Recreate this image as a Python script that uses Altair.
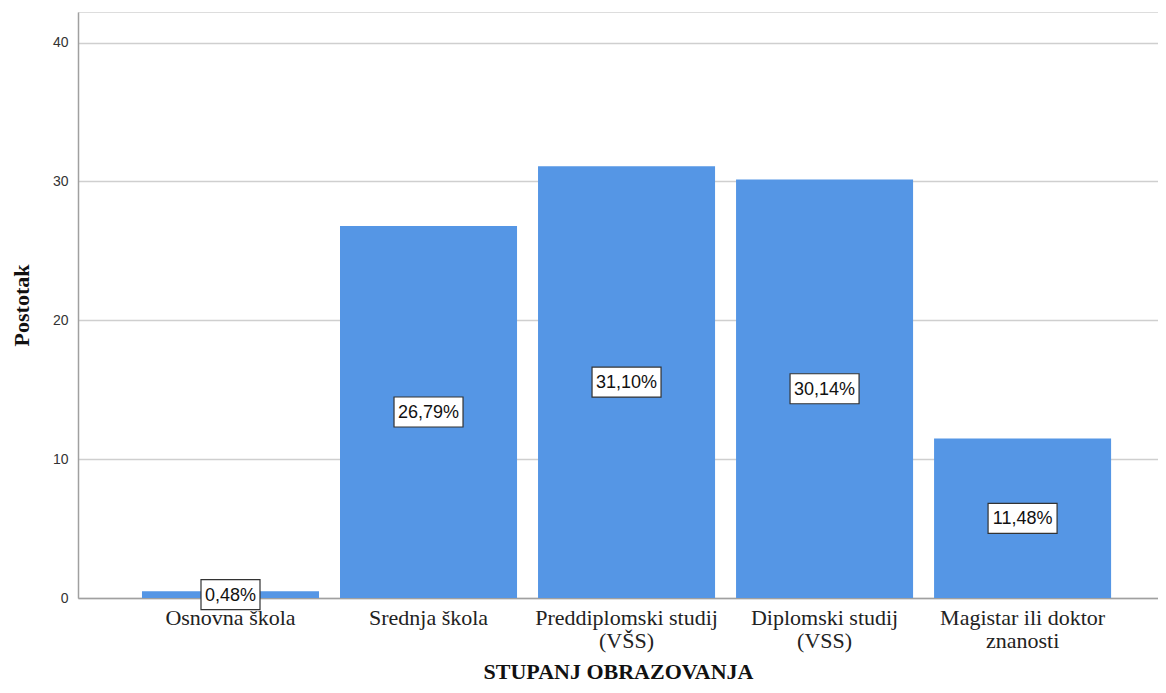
import altair as alt
import pandas as pd

categories = ["Osnovna škola", "Srednja škola", "Preddiplomski studij (VŠS)",
              "Diplomski studij (VSS)", "Magistar ili doktor znanosti"]
axis_labels = ["Osnovna škola", "Srednja škola", "Preddiplomski studij\n(VŠS)",
               "Diplomski studij\n(VSS)", "Magistar ili doktor\nznanosti"]
percent = [0.48, 26.79, 31.10, 30.14, 11.48]

def fmt(v):
    return f"{v:.2f}".replace(".", ",") + "%"

CW = {",": 0.278, "%": 0.889}
def half_box(s, fs=18):
    w = sum(CW.get(c, 0.556) for c in s) * fs
    return w / 2 + 4

rows = []
for c, lab, v in zip(categories, axis_labels, percent):
    t = fmt(v)
    hw = half_box(t)
    rows.append({"cat": lab, "pct": v, "mid": v / 2, "label": t,
                 "box": f"M{-hw:.1f},-15H{hw:.1f}V15H{-hw:.1f}Z"})
df = pd.DataFrame(rows)

xenc = alt.X("cat:N", sort=axis_labels,
             scale=alt.Scale(paddingInner=0.106, paddingOuter=0.28, align=0.577),
             axis=alt.Axis(title="STUPANJ OBRAZOVANJA", labelAngle=0,
                           labelExpr="split(datum.label, '\\n')",
                           labelFont="Liberation Serif", labelFontSize=22,
                           labelColor="#222", labelPadding=9, labelLineHeight=23,
                           labelBaseline="top", labelLimit=400,
                           titleFont="Liberation Serif", titleFontSize=22,
                           titleFontWeight="bold", titleColor="#111", titlePadding=10,
                           ticks=False, domainColor="#A0A0A0", domainWidth=1.5,
                           grid=False))

base = alt.Chart(df)

bars = base.mark_bar(color="#5596E5").encode(
    x=xenc,
    y=alt.Y("pct:Q", scale=alt.Scale(domain=[0, 42.2], nice=False),
            axis=alt.Axis(title="Postotak", values=[0, 10, 20, 30, 40],
                          labelFont="Liberation Sans", labelFontSize=14,
                          labelColor="#333", labelPadding=10, ticks=False,
                          domainColor="#A0A0A0", domainWidth=1.5,
                          gridColor="#CFCFCF", gridWidth=1.5,
                          titleFont="Liberation Serif", titleFontSize=22,
                          titleFontWeight="bold", titleColor="#111",
                          titlePadding=19)),
)

boxes = base.mark_point(filled=True, fill="white", stroke="#333",
                        strokeWidth=1.2, opacity=1, size=4).encode(
    x=alt.X("cat:N", sort=axis_labels),
    y=alt.Y("mid:Q"),
    shape=alt.Shape("box:N", scale=None),
)

texts = base.mark_text(font="Liberation Sans", fontSize=18, color="#111",
                       baseline="middle", dy=1).encode(
    x=alt.X("cat:N", sort=axis_labels),
    y=alt.Y("mid:Q"),
    text="label:N",
)

chart = alt.layer(bars, boxes, texts).properties(
    width=1080, height=586,
    autosize=alt.AutoSizeParams(type="none"),
    padding={"left": 70, "top": 4, "right": 0, "bottom": 86},
).configure_view(stroke=None).configure(background="white")

chart.save("out.html", embed_options={"renderer": "svg", "actions": False})
